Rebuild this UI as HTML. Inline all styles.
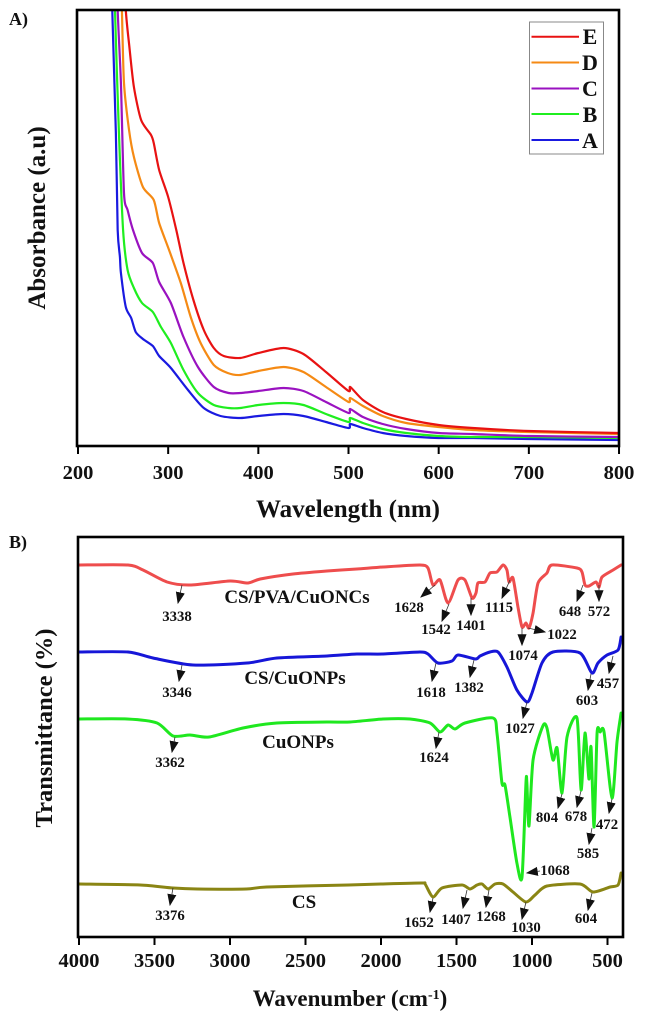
<!DOCTYPE html>
<html lang="en">
<head>
<meta charset="utf-8">
<title>Absorbance and FTIR spectra</title>
<style>
html,body{margin:0;padding:0;background:#fff;width:645px;height:1019px;overflow:hidden}
svg{display:block;filter:blur(.3px)}
text{font-family:"Liberation Serif",serif;font-weight:bold;fill:#111}
.tick{font-size:20.5px;text-anchor:middle}
.title{font-size:25px;text-anchor:middle}
.pk{font-size:14.8px;text-anchor:middle}
.sl{font-size:19px;text-anchor:middle}
.pk-line{stroke:#333;stroke-width:.8;marker-end:url(#ah)}
.axis{fill:none;stroke:#000;stroke-width:2.6}
.tk{stroke:#000;stroke-width:2}
.s{fill:none;stroke-linejoin:round;stroke-linecap:round}
.a{stroke-width:2.2}
.b{stroke-width:3}
</style>
</head>
<body>
<svg width="645" height="1019" viewBox="0 0 645 1019" xmlns="http://www.w3.org/2000/svg">
<defs>
<marker id="ah" viewBox="0 0 10 10" refX="9" refY="5" markerWidth="12" markerHeight="12" markerUnits="userSpaceOnUse" orient="auto"><path d="M0 1.2L10 5L0 8.8z" fill="#111"/></marker>
<clipPath id="clipA"><rect x="77" y="10" width="542" height="436"/></clipPath>
<clipPath id="clipB"><rect x="78" y="537" width="545" height="400"/></clipPath>
</defs>

<text x="9" y="25" style="font-size:18px">A)</text>
<text x="9" y="548" style="font-size:18px">B)</text>

<!-- Panel A -->
<g>
  <g clip-path="url(#clipA)">
    <path id="lineA" class="s a" stroke="#1a1ae0"/>
    <path id="lineB" class="s a" stroke="#1fee1f"/>
    <path id="lineC" class="s a" stroke="#9a12c0"/>
    <path id="lineD" class="s a" stroke="#f58a14"/>
    <path id="lineE" class="s a" stroke="#e81212"/>
  </g>
  <rect x="77" y="10" width="542" height="436" class="axis"/>
  <g id="ticksA"></g>
  <text class="title" x="348" y="517">Wavelength (nm)</text>
  <text class="title" transform="translate(45,218) rotate(-90)">Absorbance (a.u)</text>
  <g>
    <rect x="529.5" y="22" width="74" height="132" fill="#fff" stroke="#888" stroke-width="1"/>
    <g><line x1="531.5" x2="579" y1="36.7" y2="36.7" stroke="#e81212" stroke-width="2"/><text x="590" y="44" style="font-size:22px;text-anchor:middle">E</text></g>
    <g><line x1="531.5" x2="579" y1="62.5" y2="62.5" stroke="#f58a14" stroke-width="2"/><text x="590" y="70" style="font-size:22px;text-anchor:middle">D</text></g>
    <g><line x1="531.5" x2="579" y1="88.5" y2="88.5" stroke="#9a12c0" stroke-width="2"/><text x="590" y="96" style="font-size:22px;text-anchor:middle">C</text></g>
    <g><line x1="531.5" x2="579" y1="114" y2="114" stroke="#1fee1f" stroke-width="2"/><text x="590" y="122" style="font-size:22px;text-anchor:middle">B</text></g>
    <g><line x1="531.5" x2="579" y1="140" y2="140" stroke="#1a1ae0" stroke-width="2"/><text x="590" y="148" style="font-size:22px;text-anchor:middle">A</text></g>
  </g>
</g>

<!-- Panel B -->
<g>
  <g clip-path="url(#clipB)">
    <path id="lineCS" class="s b" stroke="#8a8514"/>
    <path id="lineCu" class="s b" stroke="#1fe81f"/>
    <path id="lineCC" class="s b" stroke="#1616d8"/>
    <path id="linePV" class="s b" stroke="#ee4d4d"/>
  </g>
  <rect x="78" y="537" width="545" height="400" class="axis"/>
  <g id="ticksB"></g>
  <text class="title" x="350" y="1006" style="font-size:23px">Wavenumber (cm<tspan dy="-7" style="font-size:14px">-1</tspan><tspan dy="7">)</tspan></text>
  <text class="title" transform="translate(52,728) rotate(-90)" style="font-size:24.5px">Transmittance (%)</text>

  <text class="sl" x="297" y="603">CS/PVA/CuONCs</text>
  <text class="sl" x="295" y="684">CS/CuONPs</text>
  <text class="sl" x="298" y="748">CuONPs</text>
  <text class="sl" x="304" y="908">CS</text>

  <g>
    <g><line class="pk-line" x1="182" y1="585" x2="178" y2="603"/><text class="pk" x="177" y="621">3338</text></g>
    <g><line class="pk-line" x1="435" y1="585" x2="421" y2="597"/><text class="pk" x="409" y="612">1628</text></g>
    <g><line class="pk-line" x1="449" y1="604" x2="442" y2="621"/><text class="pk" x="436" y="634">1542</text></g>
    <g><line class="pk-line" x1="471" y1="598" x2="471" y2="615"/><text class="pk" x="471" y="630">1401</text></g>
    <g><line class="pk-line" x1="510" y1="580" x2="502" y2="598"/><text class="pk" x="499" y="612">1115</text></g>
    <g><line class="pk-line" x1="522" y1="628" x2="522" y2="645"/><text class="pk" x="523" y="660">1074</text></g>
    <g><line class="pk-line" x1="528" y1="628" x2="545" y2="632"/><text class="pk" x="562" y="639">1022</text></g>
    <g><line class="pk-line" x1="583" y1="585" x2="577" y2="601"/><text class="pk" x="570" y="616">648</text></g>
    <g><line class="pk-line" x1="599" y1="585" x2="599" y2="601"/><text class="pk" x="599" y="616">572</text></g>
    <g><line class="pk-line" x1="182" y1="665" x2="179" y2="681"/><text class="pk" x="177" y="697">3346</text></g>
    <g><line class="pk-line" x1="436" y1="663" x2="432" y2="681"/><text class="pk" x="431" y="697">1618</text></g>
    <g><line class="pk-line" x1="474" y1="660" x2="470" y2="677"/><text class="pk" x="469" y="692">1382</text></g>
    <g><line class="pk-line" x1="527" y1="702" x2="523" y2="718"/><text class="pk" x="520" y="733">1027</text></g>
    <g><line class="pk-line" x1="591" y1="674" x2="588" y2="690"/><text class="pk" x="587" y="705">603</text></g>
    <g><line class="pk-line" x1="613" y1="656" x2="609" y2="673"/><text class="pk" x="608" y="688">457</text></g>
    <g><line class="pk-line" x1="175" y1="737" x2="172" y2="752"/><text class="pk" x="170" y="767">3362</text></g>
    <g><line class="pk-line" x1="439" y1="732" x2="436" y2="748"/><text class="pk" x="434" y="762">1624</text></g>
    <g><line class="pk-line" x1="562" y1="794" x2="558" y2="808"/><text class="pk" x="547" y="822">804</text></g>
    <g><line class="pk-line" x1="581" y1="791" x2="577" y2="807"/><text class="pk" x="576" y="821">678</text></g>
    <g><line class="pk-line" x1="612" y1="799" x2="609" y2="813"/><text class="pk" x="607" y="829">472</text></g>
    <g><line class="pk-line" x1="592" y1="828" x2="589" y2="844"/><text class="pk" x="588" y="858">585</text></g>
    <g><line class="pk-line" x1="540" y1="871" x2="527" y2="873"/><text class="pk" x="555" y="875">1068</text></g>
    <g><line class="pk-line" x1="173" y1="888" x2="170" y2="905"/><text class="pk" x="170" y="920">3376</text></g>
    <g><line class="pk-line" x1="433" y1="898" x2="430" y2="912"/><text class="pk" x="419" y="927">1652</text></g>
    <g><line class="pk-line" x1="467" y1="890" x2="463" y2="908"/><text class="pk" x="456" y="924">1407</text></g>
    <g><line class="pk-line" x1="489" y1="890" x2="486" y2="907"/><text class="pk" x="491" y="921">1268</text></g>
    <g><line class="pk-line" x1="526" y1="902" x2="522" y2="919"/><text class="pk" x="526" y="932">1030</text></g>
    <g><line class="pk-line" x1="592" y1="893" x2="588" y2="910"/><text class="pk" x="586" y="923">604</text></g>
  </g>
</g>

<script>
/* Panel A: wavelength (nm) and absorbance (arbitrary units) per sample */
const nmE = [250,253,257,262,270,281,284,290,300,309,317,328,339.5,350.6,361.6,380,400,428,450,475,500,502,516,538,564,600,638,700,800];
const absE = [500,436,399,359,326,311,303,276,249,216,183,146,116,98,90,88,93,98,92,74,55,59,46,34,27,21,18,15,13];
const nmD = [247,248.7,251,256.6,262,272,284,290,301,314,325,336,350.6,366,380,400,428,450,475,500,502,516,538,564,600,638,700,800];
const absD = [500,436,363,316,289,259,246,223,196,163,129,103,81,73,71,75,79,74,59,44,48,40,30,23,19,16,14,12];
const nmC = [243,244,247.6,251,255,261,271,283,290,303,317,333,350.6,367,380,400,428,450,475,500,502,516,538,564,600,638,700,800];
const absC = [500,436,363,253,236,216,193,183,164,143,109,79,59,53,53,55,58,55,44,33,37,29,22,17,13,12,10,9];
const nmB = [240,241,245.4,250,255,262,271,283,292,303,317,333,350.6,367,380,400,428,450,475,500,502,516,538,564,600,638,700,800];
const absB = [500,436,313,216,176,158,143,134,119,103,76,53,41,38,38,41,43,41,32,24,28,23,17,13,10,9,9,8];
const nmA = [237,238,242,244,246.5,247.6,253,259,264,272,283,290,303,322,339.5,358,380,400,428,450,475,500,502,516,538,564,600,638,700,800];
const absA = [500,436,313,216,189,173,139,128,114,107,100,90,78,56,38,30,28,30,32,30,24,18,22,18,13,10,8,8,7,6];
const ticksNm = [200,300,400,500,600,700,800];

/* Panel B: wavenumber (cm-1) and transmittance (arbitrary units) per sample */
const wnPV = [4000,3675,3576,3417,3265,3000,2880,2800,2583,2358,2160,1987,1742,1689,1656,1609,1556,1490,1444,1397,1371,1358,1311,1278,1232,1192,1166,1152,1126,1093,1066,1040,1020,993,960,901,868,702,669,649,623,576,556,536,463,410];
const tPV = [372,372,367,355,352,356,354,358,363,366,368,370,372,369,352,357,334,357,357,339,344,354,355,364,365,372,367,355,359,330,310,314,309,324,354,364,372,369,365,352,351,355,350,360,367,372];
const wnCC = [4000,3675,3510,3245,2887,2689,2358,2160,1987,1742,1689,1623,1530,1490,1375,1344,1278,1225,1166,1100,1033,1000,934,861,682,603,563,503,430,410];
const tCC = [285,285,279,272,274,279,281,283,283,285,283,274,276,282,278,281,285,285,270,247,235,244,274,285,284,264,274,282,287,300];
const wnCu = [4000,3680,3483,3377,3265,3139,2914,2689,2358,2205,1987,1808,1675,1609,1556,1510,1444,1258,1232,1199,1179,1146,1100,1066,1040,1034,1020,993,928,901,861,834,801,768,702,675,649,623,609,589,569,549,523,470,437,410];
const tCu = [218,218,214,201,202,200,209,214,215,215,218,218,214,205,212,208,214,219,204,154,152,120,74,60,154,154,111,177,211,209,177,189,144,200,219,147,204,158,190,110,204,205,205,139,195,224];
const wnCS = [4000,3595,3378,3216,2892,2757,2216,2000,1730,1708,1656,1596,1463,1411,1364,1331,1291,1245,1192,1126,1040,980,901,682,596,483,430,410];
const tCS = [53,52,49,48,48,50,52,53,54,53,40,49,52,48,52,53,48,53,53,45,35,42,51,53,45,50,52,64];
const ticksWn = [4000,3500,3000,2500,2000,1500,1000,500];

/* Axis functions */
function xA(nm){return 78 + (nm - 200) * 0.9017;}
function yA(a){return 446 - a;}
function xB(wn){return 79 + (4000 - wn) * 0.151;}
function yB(t){return 937 - t;}

function pathFrom(xs, ys, fx, fy){
  const p = xs.map(function(v, i){return [fx(v), fy(ys[i])];});
  let d = 'M' + p[0][0].toFixed(2) + ' ' + p[0][1].toFixed(2);
  for (let i = 0; i < p.length - 1; i++) {
    const a = p[Math.max(i - 1, 0)], b = p[i], c = p[i + 1], e = p[Math.min(i + 2, p.length - 1)];
    const k = 8;
    d += 'C' + (b[0] + (c[0] - a[0]) / k).toFixed(2) + ' ' + (b[1] + (c[1] - a[1]) / k).toFixed(2) + ' ' +
         (c[0] - (e[0] - b[0]) / k).toFixed(2) + ' ' + (c[1] - (e[1] - b[1]) / k).toFixed(2) + ' ' +
         c[0].toFixed(2) + ' ' + c[1].toFixed(2);
  }
  return d;
}

document.getElementById('lineE').setAttribute('d', pathFrom(nmE, absE, xA, yA));
document.getElementById('lineD').setAttribute('d', pathFrom(nmD, absD, xA, yA));
document.getElementById('lineC').setAttribute('d', pathFrom(nmC, absC, xA, yA));
document.getElementById('lineB').setAttribute('d', pathFrom(nmB, absB, xA, yA));
document.getElementById('lineA').setAttribute('d', pathFrom(nmA, absA, xA, yA));
document.getElementById('linePV').setAttribute('d', pathFrom(wnPV, tPV, xB, yB));
document.getElementById('lineCC').setAttribute('d', pathFrom(wnCC, tCC, xB, yB));
document.getElementById('lineCu').setAttribute('d', pathFrom(wnCu, tCu, xB, yB));
document.getElementById('lineCS').setAttribute('d', pathFrom(wnCS, tCS, xB, yB));

const NS = 'http://www.w3.org/2000/svg';
function addTick(group, x, yAxis, labelY, label){
  const l = document.createElementNS(NS, 'line');
  
  
  l.setAttribute('class', 'tk');
  l.setAttribute('x1', x);
  l.setAttribute('x2', x);
  l.setAttribute('y1', yAxis);
  l.setAttribute('y2', yAxis + 8);
  group.appendChild(l);
  const t = document.createElementNS(NS, 'text');
  
  
  t.setAttribute('class', 'tick');
  t.setAttribute('x', x);
  t.setAttribute('y', labelY);
  t.textContent = label;
  group.appendChild(t);
}
const gA = document.getElementById('ticksA');
ticksNm.forEach(function(v){addTick(gA, xA(v), 446, 479, String(v));});
const gB = document.getElementById('ticksB');
ticksWn.forEach(function(v){addTick(gB, xB(v), 937, 967, String(v));});
</script>
</svg>
</body>
</html>
